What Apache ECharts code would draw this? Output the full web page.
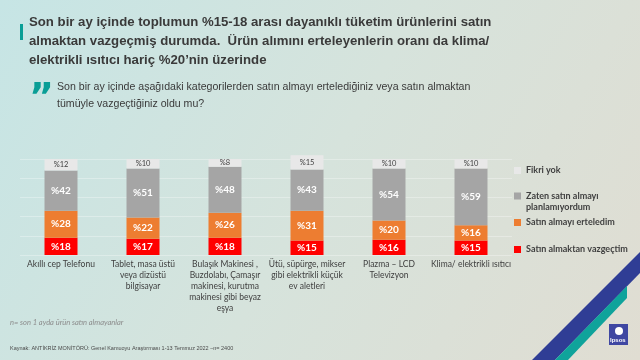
<!DOCTYPE html>
<html><head><meta charset="utf-8">
<script src="https://cdn.jsdelivr.net/npm/echarts@6/dist/echarts.min.js"></script>
<style>html,body{margin:0;padding:0;}#c{width:640px;height:360px;}</style>
</head><body><div id="c"></div>
<script>
const categories = [
  "Akıllı cep Telefonu",
  "Tablet, masa üstü\nveya dizüstü\nbilgisayar",
  "Bulaşık Makinesi ,\nBuzdolabı, Çamaşır\nmakinesi, kurutma\nmakinesi gibi beyaz\neşya",
  "Ütü, süpürge, mikser\ngibi elektrikli küçük\nev aletleri",
  "Plazma – LCD\nTelevizyon",
  "Klima/ elektrikli ısıtıcı"
];
const seriesNames = ["Satın almaktan vazgeçtim", "Satın almayı erteledim", "Zaten satın almayı planlamıyordum", "Fikri yok"];
const vazgectim = [18, 17, 18, 15, 16, 15];
const erteledim = [28, 22, 26, 31, 20, 16];
const zaten = [42, 51, 48, 43, 54, 59];
const fikriYok = [12, 10, 8, 15, 10, 10];
const yTicks = [0, 20, 40, 60, 80, 100];

const colors = ["#ff0000", "#ed7d31", "#a5a5a5", "#e8e8e8"];
const values = [vazgectim, erteledim, zaten, fikriYok];
const FONT = "Lato, 'Open Sans', sans-serif";
const ARIAL = "'Liberation Sans', Arial, sans-serif";

const chart = echarts.init(document.getElementById('c'), null, {renderer: 'canvas'});

const series = seriesNames.map((n, i) => ({
  name: n,
  type: 'bar',
  stack: 'total',
  barWidth: 33,
  clip: false,
  data: values[i],
  itemStyle: {color: colors[i]},
  label: {
    show: true,
    position: 'inside',
    formatter: p => '%' + p.value,
    fontFamily: FONT,
    fontSize: i === 3 ? 7.5 : 10,
    fontWeight: i === 3 ? 'normal' : 'bold',
    color: i === 3 ? '#404040' : '#ffffff'
  }
}));

const legendTops = [244, 217, 179.5, 165];
const legends = seriesNames.map((n, i) => ({
  data: [n],
  left: 514,
  top: legendTops[i],
  padding: 0,
  itemWidth: 7,
  itemHeight: 7,
  itemGap: 4,
  icon: 'rect',
  selectedMode: false,
  formatter: name => name.replace('Zaten satın almayı planlamıyordum', ' \nZaten satın almayı\nplanlamıyordum'),
  textStyle: {fontFamily: FONT, fontSize: 9, fontWeight: 'bold', color: '#404040', lineHeight: 11}
}));

const option = {
  backgroundColor: {
    type: 'linear', x: 0, y: 0, x2: 1, y2: 1,
    colorStops: [
      {offset: 0, color: '#c6e5e5'},
      {offset: 0.5, color: '#d6e3dc'},
      {offset: 1, color: '#e0ddd2'}
    ]
  },
  animation: false,
  title: [
    {
      text: "Son bir ay içinde toplumun %15-18 arası dayanıklı tüketim ürünlerini satın\nalmaktan vazgeçmiş durumda.  Ürün alımını erteleyenlerin oranı da klima/\nelektrikli ısıtıcı hariç %20’nin üzerinde",
      left: 29, top: 13, padding: 0,
      textStyle: {fontFamily: ARIAL, fontSize: 13.2, fontWeight: 'bold', color: '#3a3a3a', lineHeight: 19}
    },
    {
      text: "Son bir ay içinde aşağıdaki kategorilerden satın almayı ertelediğiniz veya satın almaktan\ntümüyle vazgeçtiğiniz oldu mu?",
      left: 57, top: 79, padding: 0,
      textStyle: {fontFamily: ARIAL, fontSize: 10.6, fontWeight: 'normal', color: '#3a3a3a', lineHeight: 17}
    }
  ],
  legend: legends,
  grid: {left: 20, right: 128, top: 159, bottom: 105, containLabel: false},
  xAxis: {
    type: 'category',
    data: categories,
    axisLine: {show: false},
    axisTick: {show: false},
    axisLabel: {interval: 0, fontFamily: FONT, fontSize: 8.5, lineHeight: 11, color: '#404040', margin: 4}
  },
  yAxis: {
    type: 'value', min: 0, max: yTicks[yTicks.length - 1], interval: yTicks[1] - yTicks[0],
    axisLabel: {show: false},
    axisLine: {show: false},
    axisTick: {show: false},
    splitLine: {show: true, lineStyle: {color: 'rgba(255,255,255,0.3)', width: 1}}
  },
  series: series,
  graphic: [
    {type: 'rect', shape: {x: 20, y: 24, width: 3, height: 16}, style: {fill: '#0a9e96'}},
    {type: 'text', left: 29, top: 80, style: {text: '”', fontFamily: "'DejaVu Sans', sans-serif", fontSize: 38, fontWeight: 'bold', fill: '#0a9e96'}},
    {type: 'text', left: 10, top: 319, style: {text: 'n= son 1 ayda ürün satın almayanlar', fontFamily: FONT, fontSize: 7.5, fontStyle: 'italic', fill: '#8c8c8c'}},
    {type: 'text', left: 10, top: 345, style: {text: 'Kaynak: ANTİKRİZ MONİTÖRÜ: Genel Kamuoyu Araştırması 1-13 Temmuz 2022 –n= 2400', fontFamily: ARIAL, fontSize: 5.5, fill: '#4a4a4a'}},
    {type: 'polygon', shape: {points: [[640, 252], [640, 273], [555, 360], [532, 360]]}, style: {fill: '#2f3d95'}},
    {type: 'polygon', shape: {points: [[627, 286], [627, 298], [568, 360], [555, 360]]}, style: {fill: '#0fa39b'}},
    {type: 'rect', shape: {x: 609, y: 324, width: 19, height: 21}, style: {fill: '#3f47a2'}},
    {type: 'circle', shape: {cx: 619, cy: 331, r: 4}, style: {fill: '#ffffff'}},
    {type: 'text', left: 610, top: 337, style: {text: 'Ipsos', fontFamily: ARIAL, fontSize: 6, fontWeight: 'bold', fill: '#ffffff'}}
  ]
};
chart.setOption(option);
</script>
</body></html>
